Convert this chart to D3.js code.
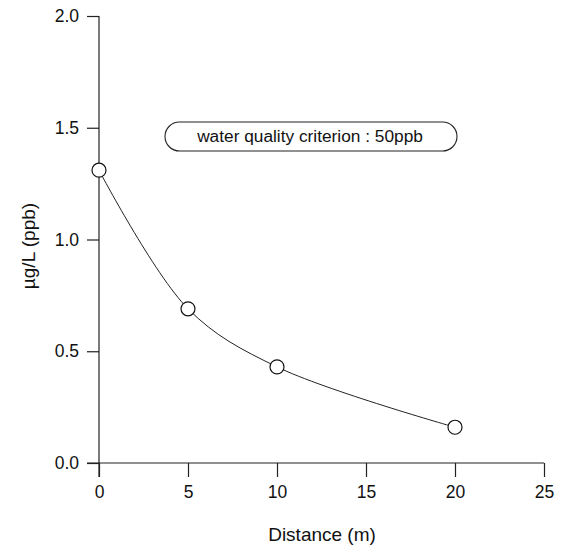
<!DOCTYPE html>
<meta charset="utf-8">
<script src="https://d3js.org/d3.v7.min.js"></script>
<style>
  body { margin: 0; background: #fff; }
  text { font-family: 'Liberation Sans', Arial, sans-serif; fill: #111; }
</style>
<body>
<div id="my_dataviz"></div>
<script>

// data
var distance = [0, 5, 10, 20];
var conc = [1.31, 0.69, 0.43, 0.16];
var xTicks = [0, 5, 10, 15, 20, 25];
var yTicks = [0, 0.5, 1.0, 1.5, 2.0];
var note = "water quality criterion : 50ppb";

var margin = {top: 16, right: 18, bottom: 84, left: 99},
    width = 544 - margin.left,
    height = 463 - margin.top;

var svg = d3.select("#my_dataviz")
  .append("svg")
    .attr("width", 562)
    .attr("height", 547)
  .append("g")
    .attr("transform", "translate(" + margin.left + "," + margin.top + ")");

var x = d3.scaleLinear().domain([0, 25]).range([0, width]);
var y = d3.scaleLinear().domain([0, 2]).range([height, 0]);

// X axis
var gx = svg.append("g")
  .attr("transform", "translate(0," + height + ")")
  .call(d3.axisBottom(x).tickValues(xTicks).tickSize(14).tickPadding(9).tickFormat(d3.format("d")));
gx.select(".domain").attr("d", "M-12,0H" + width);

// Y axis
var gy = svg.append("g")
  .call(d3.axisLeft(y).tickValues(yTicks).tickSize(12).tickPadding(8).tickFormat(d3.format(".1f")));
gy.select(".domain").attr("d", "M0," + (height + 14) + "V0");

svg.selectAll(".tick text")
  .style("font-size", "17.5px")
  .style("font-family", "'Liberation Sans', Arial, sans-serif")
  .attr("fill", "#111");
svg.selectAll(".domain, .tick line").attr("stroke", "#222").attr("stroke-width", 1.2);

// axis labels
svg.append("text")
  .attr("x", 322 - margin.left)
  .attr("y", 541 - margin.top)
  .attr("text-anchor", "middle")
  .style("font-size", "19px")
  .text("Distance (m)");

svg.append("text")
  .attr("transform", "rotate(-90)")
  .attr("x", -(246 - margin.top))
  .attr("y", 35 - margin.left)
  .attr("text-anchor", "middle")
  .style("font-size", "19px")
  .text("\u00b5g/L (ppb)");

// line
var pts = distance.map(function(d, i) { return [d, conc[i]]; });
svg.append("path")
  .datum(pts)
  .attr("fill", "none")
  .attr("stroke", "#222")
  .attr("stroke-width", 1)
  .attr("d", d3.line()
    .curve(d3.curveCatmullRom)
    .x(function(d) { return x(d[0]); })
    .y(function(d) { return y(d[1]); }));

// points
svg.selectAll("circle")
  .data(pts)
  .enter()
  .append("circle")
    .attr("cx", function(d) { return x(d[0]); })
    .attr("cy", function(d) { return y(d[1]); })
    .attr("r", 7)
    .attr("fill", "#fff")
    .attr("stroke", "#111")
    .attr("stroke-width", 1.2);

// annotation box
svg.append("rect")
  .attr("x", 165 - margin.left)
  .attr("y", 122 - margin.top)
  .attr("width", 292)
  .attr("height", 29)
  .attr("rx", 14.5)
  .attr("fill", "none")
  .attr("stroke", "#222")
  .attr("stroke-width", 1.1);

svg.append("text")
  .attr("x", 310 - margin.left)
  .attr("y", 142 - margin.top)
  .attr("text-anchor", "middle")
  .style("font-size", "17.3px")
  .text(note);

</script>
</body>
